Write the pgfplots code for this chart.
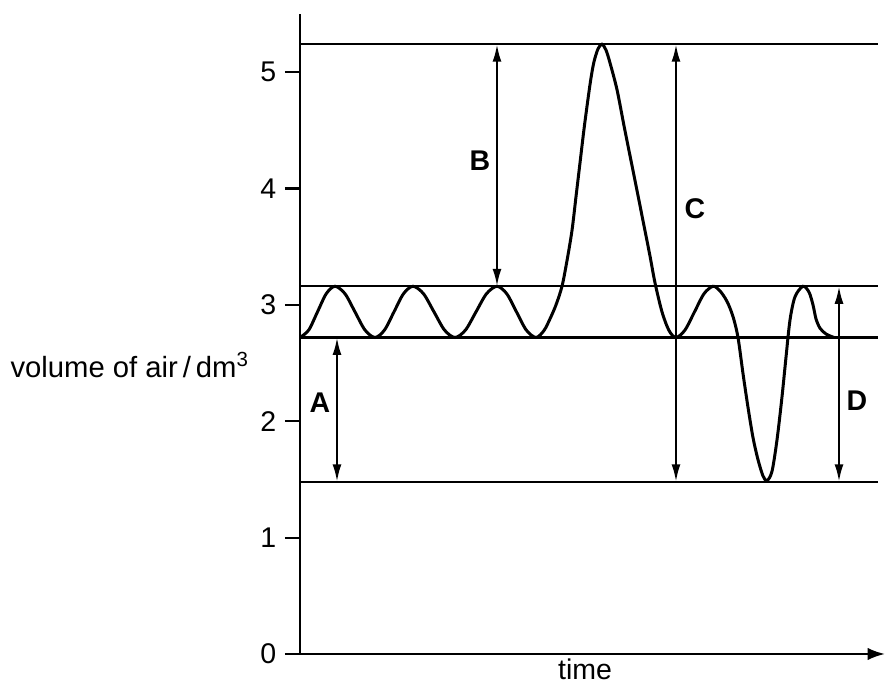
\documentclass[border=0pt]{standalone}
\usepackage{pgfplots}
\pgfplotsset{compat=1.18}
\usepackage{fontspec}
\setmainfont{Liberation Sans}
\usetikzlibrary{arrows.meta}

\begin{document}
\begin{tikzpicture}[font=\fontsize{11.4pt}{13pt}\selectfont]
\useasboundingbox (-120pt,-14pt) rectangle (234.4pt,261.6pt);
\begin{axis}[
  at={(0,0)}, anchor=south west,
  scale only axis, width=234pt, height=256pt,
  xmin=0, xmax=585, ymin=0, ymax=5.5,
  axis x line=bottom, axis y line=left,
  axis line style={line width=0.9pt, black},
  x axis line style={-{Latex[length=7pt,width=5pt]}},
  y axis line style={-},
  xtick=\empty, ytick={0,1,2,3,4,5},
  tick align=outside, major tick length=6pt,
  tick style={line width=0.9pt, black},
  /pgf/number format/assume math mode=true,
  clip=false, no markers,
]
% reference levels
\addplot[black, line width=0.9pt] coordinates {(0,5.24) (578,5.24)};
\addplot[black, line width=0.9pt] coordinates {(0,3.16) (578,3.16)};
\addplot[black, line width=0.9pt] coordinates {(0,2.72) (578,2.72)};
\addplot[black, line width=0.9pt] coordinates {(0,1.48) (578,1.48)};

% spirometer trace
\addplot[black, line width=1.2pt, smooth] coordinates {
  (0,2.72) (8.75,2.784) (17.5,2.94) (26.25,3.096) (35,3.16)
  (45,3.096) (55,2.94) (65,2.784) (75,2.72)
  (84.5,2.784) (94,2.94) (103.5,3.096) (113,3.16)
  (123.5,3.096) (134,2.94) (144.5,2.784) (155,2.72)
  (165.5,2.784) (176,2.94) (186.5,3.096) (197,3.16)
  (206.75,3.096) (216.5,2.94) (226.25,2.784) (236,2.72)
  (244,2.78) (250,2.88) (256,3.0) (262,3.16) (267,3.38) (272,3.64)
  (276,3.93) (280,4.22) (284,4.51) (288,4.77) (291,4.95) (294,5.09)
  (298,5.20) (302,5.24) (306,5.19) (310,5.08) (317,4.85) (324,4.54)
  (331,4.24) (338,3.94) (344,3.68) (350,3.42) (355,3.19) (362,2.94)
  (369,2.78) (376,2.72)
  (385,2.784) (394.5,2.94) (404,3.096) (413,3.16)
  (420,3.12) (427,3.03) (433,2.90) (438,2.72) (443,2.41) (448,2.12)
  (453,1.86) (458,1.67) (463,1.53) (467,1.49) (472,1.57) (477,1.84)
  (482,2.21) (486,2.55) (490,2.87) (495,3.07) (503,3.16) (509,3.11)
  (513,3.0) (516,2.88) (520,2.80) (526,2.75) (534,2.72)
};

% annotation arrows
\addplot[black, line width=0.9pt, {Latex[length=7pt,width=3.6pt]}-{Latex[length=7pt,width=3.6pt]}]
  coordinates {(37,1.48) (37,2.72)};
\addplot[black, line width=0.9pt, {Latex[length=7pt,width=3.6pt]}-{Latex[length=7pt,width=3.6pt]}]
  coordinates {(197,3.16) (197,5.24)};
\addplot[black, line width=0.9pt, {Latex[length=7pt,width=3.6pt]}-{Latex[length=7pt,width=3.6pt]}]
  coordinates {(376,1.48) (376,5.24)};
\addplot[black, line width=0.9pt, {Latex[length=7pt,width=3.6pt]}-{Latex[length=7pt,width=3.6pt]}]
  coordinates {(539,1.48) (539,3.16)};

\node[font=\fontsize{11.4pt}{13pt}\selectfont\bfseries] at (axis cs:20,2.16) {A};
\node[font=\fontsize{11.4pt}{13pt}\selectfont\bfseries] at (axis cs:180,4.24) {B};
\node[font=\fontsize{11.4pt}{13pt}\selectfont\bfseries] at (axis cs:395,3.83) {C};
\node[font=\fontsize{11.4pt}{13pt}\selectfont\bfseries] at (axis cs:557,2.18) {D};

\node[anchor=east, font=\fontsize{11.7pt}{13pt}\selectfont] at (axis cs:-42,2.48) {volume of air\,/\,dm\textsuperscript{3}};
\node at (axis cs:285,-0.13) {time};
\end{axis}
\end{tikzpicture}
\end{document}
